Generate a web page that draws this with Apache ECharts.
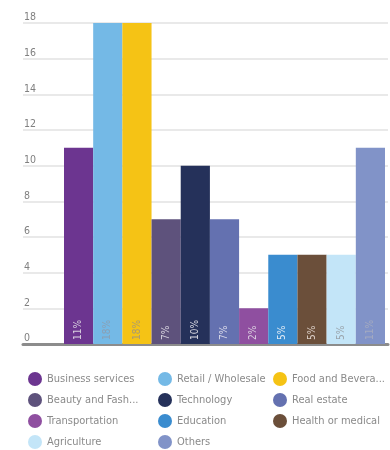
<!DOCTYPE html>
<html>
<head>
<meta charset="utf-8">
<script src="https://cdn.jsdelivr.net/npm/echarts@6/dist/echarts.min.js"></script>
<style>
  html, body { margin: 0; padding: 0; background: #fff; }
  #chart { width: 390px; height: 450px; }
</style>
</head>
<body>
<div id="chart"></div>
<script>
// Sectors and their counts
var sectors = [
  'Business services', 'Retail / Wholesale', 'Food and Beverage',
  'Beauty and Fashion', 'Technology', 'Real estate',
  'Transportation', 'Education', 'Health or medical',
  'Agriculture', 'Others'
];
var counts = [11, 18, 18, 7, 10, 7, 2, 5, 5, 5, 11];
var sectorColors = [
  '#6c3590', '#74b9e6', '#f5c315',
  '#5e527c', '#25315a', '#6471b0',
  '#8f4fa0', '#3a8ccf', '#6b4f3a',
  '#c3e5f8', '#8193c8'
];
var labelColors = [
  '#d8d0de', '#8aa0b4', '#a89a72',
  '#d8d4e0', '#d8d8e0', '#dcdcea',
  '#dcd0e0', '#e0eaf4', '#dcd0c8',
  '#9aa4ac', '#a4aac0'
];
var yTicks = [0, 2, 4, 6, 8, 10, 12, 14, 16, 18];

var FONT = "'Liberation Sans Narrow', 'DejaVu Sans Condensed', sans-serif";
var total = counts.reduce(function (a, b) { return a + b; }, 0);
var yMax = yTicks[yTicks.length - 1];
var yStep = yTicks[1] - yTicks[0];

var series = sectors.map(function (name, i) {
  var data = counts.map(function (v, j) { return j === i ? v : '-'; });
  return {
    name: name,
    type: 'bar',
    stack: 'sectors',
    xAxisIndex: 0,
    yAxisIndex: 0,
    barWidth: '100%',
    data: data,
    itemStyle: { color: sectorColors[i] },
    label: {
      show: true,
      position: 'insideBottom',
      rotate: 90,
      align: 'left',
      verticalAlign: 'middle',
      distance: 4,
      color: labelColors[i],
      fontFamily: FONT,
      fontSize: 10,
      formatter: function (p) {
        return Math.round(p.value / total * 100) + '%';
      }
    },
    emphasis: { disabled: true }
  };
});

// One legend per column so the three columns line up like a table
function legendColumn(left, names) {
  return {
    orient: 'vertical',
    left: left,
    top: 372,
    height: 90,
    padding: 0,
    itemGap: 7,
    itemWidth: 14,
    itemHeight: 14,
    icon: 'circle',
    data: names,
    selectedMode: false,
    textStyle: {
      fontFamily: FONT,
      fontSize: 11,
      color: '#8a8a8a',
      width: 94,
      overflow: 'truncate',
      ellipsis: '...'
    }
  };
}

var option = {
  animation: false,
  grid: [
    { left: 64, right: 5, top: 23, bottom: 106 },
    { left: 23, right: 2, top: 23, bottom: 106 }
  ],
  xAxis: [
    {
      type: 'category',
      gridIndex: 0,
      data: sectors,
      axisLine: { show: false },
      axisTick: { show: false },
      axisLabel: { show: false }
    },
    {
      type: 'category',
      gridIndex: 1,
      data: [''],
      axisLine: { show: true, lineStyle: { color: '#8c8c8c', width: 3 } },
      axisTick: { show: false },
      axisLabel: { show: false }
    }
  ],
  yAxis: [
    {
      type: 'value',
      gridIndex: 0,
      min: 0, max: yMax, interval: yStep,
      axisLine: { show: false },
      axisTick: { show: false },
      axisLabel: { show: false },
      splitLine: { show: false }
    },
    {
      type: 'value',
      gridIndex: 1,
      min: 0, max: yMax, interval: yStep,
      axisLine: { show: false },
      axisTick: { show: false },
      splitLine: { show: true, lineStyle: { color: '#e2e2e2', width: 1.5 } },
      axisLabel: {
        inside: true,
        margin: 1,
        verticalAlign: 'bottom',
        padding: [0, 0, 0, 0],
        color: '#808080',
        fontFamily: FONT,
        fontSize: 10.5
      }
    }
  ],
  legend: [
    legendColumn(28, [sectors[0], sectors[3], sectors[6], sectors[9]]),
    legendColumn(158, [sectors[1], sectors[4], sectors[7], sectors[10]]),
    legendColumn(273, [sectors[2], sectors[5], sectors[8]])
  ],
  series: series
};

var chart = echarts.init(document.getElementById('chart'), null, { renderer: 'canvas' });
chart.setOption(option);
</script>
</body>
</html>
